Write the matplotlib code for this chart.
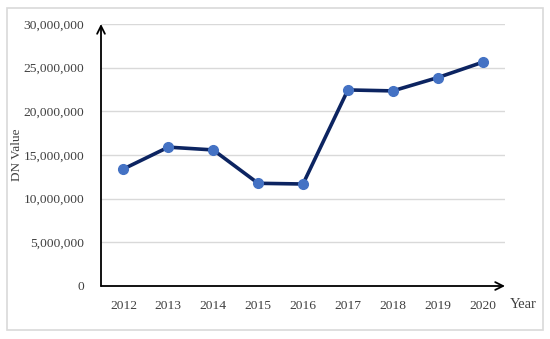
import matplotlib
matplotlib.use('Agg')
import matplotlib.pyplot as plt
from matplotlib.patches import Rectangle
from matplotlib.ticker import FuncFormatter

# data
years = ['2012', '2013', '2014', '2015', '2016', '2017', '2018', '2019', '2020']
dn_values = [13400000, 15900000, 15580000, 11760000, 11680000,
             22450000, 22340000, 23860000, 25620000]

plt.rcParams['font.family'] = ['Liberation Serif', 'DejaVu Serif']

fig = plt.figure(figsize=(5.5, 3.39), dpi=100)
ax = fig.add_axes([101 / 550, 53 / 339, 404 / 550, 262 / 339])

# light border round the whole chart
fig.patches.append(Rectangle((7 / 550, 9 / 339), 536 / 550, 322 / 339,
                             transform=fig.transFigure, fill=False,
                             edgecolor='#d9d9d9', linewidth=1.2))

x = list(range(len(years)))
ax.plot(x, dn_values, color='#0c2461', linewidth=2.6, marker='o',
        markersize=7, markerfacecolor='#4472c4', markeredgecolor='#4472c4',
        zorder=3)

ax.set_xlim(-0.5, len(years) - 0.5)
ax.set_ylim(0, 30000000)
ax.set_yticks(range(0, 30000001, 5000000))
ax.yaxis.set_major_formatter(FuncFormatter(lambda v, p: f'{int(v):,}'))
ax.set_xticks(x)
ax.set_xticklabels(years)
ax.tick_params(axis='both', length=0, labelsize=9.7, colors='#404040')
ax.tick_params(axis='y', pad=12)
ax.tick_params(axis='x', pad=10)
ax.grid(axis='y', color='#d9d9d9', linewidth=1)
ax.set_axisbelow(True)
for s in ax.spines.values():
    s.set_visible(False)

# axes drawn as arrows
ax.annotate('', xy=(0, 1.0), xytext=(0, 0), xycoords='axes fraction',
            arrowprops=dict(arrowstyle='->', color='black', lw=1.3,
                            mutation_scale=14, shrinkA=0, shrinkB=0))
ax.annotate('', xy=(1.0, 0), xytext=(0, 0), xycoords='axes fraction',
            arrowprops=dict(arrowstyle='->', color='black', lw=1.3,
                            mutation_scale=14, shrinkA=0, shrinkB=0))

fig.text(17 / 550, 1 - 155 / 339, 'DN Value', rotation=90, ha='center',
         va='center', fontsize=9.5, color='#404040')
fig.text(523 / 550, 1 - 305 / 339, 'Year', ha='center', va='center',
         fontsize=10.5, color='#404040')

fig.savefig('out.png', dpi=100)
